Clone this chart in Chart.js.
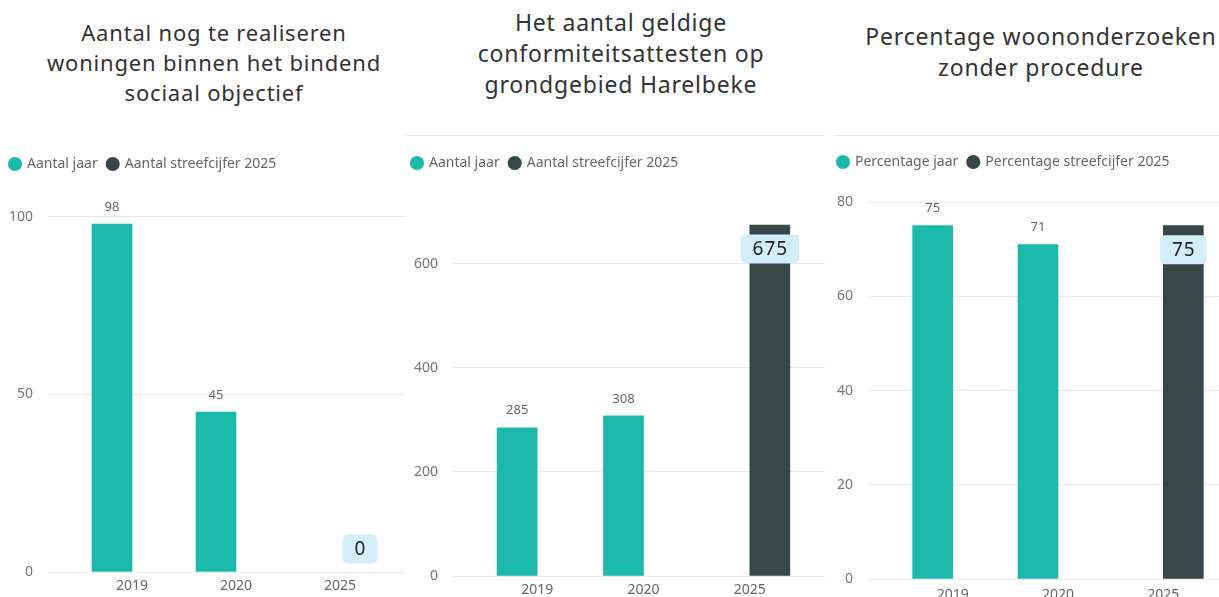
<!DOCTYPE html>
<html>
<head>
<meta charset="UTF-8">
<title>Wonen Harelbeke</title>
<script src="https://cdn.jsdelivr.net/npm/chart.js"></script>
<style>
  body { margin: 0; width: 1219px; height: 597px; overflow: hidden; background: #fff; position: relative; font-family: 'Noto Sans', sans-serif; }
  .title { position: absolute; text-align: center; color: #333; white-space: nowrap; letter-spacing: 0.8px; }
  .wrap { position: absolute; }
  .sep { position: absolute; top: 135px; height: 1px; background: #e6e9ec; }
</style>
</head>
<body>
<div class="title" style="left:0;top:17px;width:428px;font-size:22px;line-height:30px">Aantal nog te realiseren<br>woningen binnen het bindend<br>sociaal objectief</div>
<div class="title" style="left:411px;top:7px;width:420px;font-size:23px;line-height:31px">Het aantal geldige<br>conformiteitsattesten op<br>grondgebied Harelbeke</div>
<div class="title" style="left:841px;top:21px;width:400px;font-size:23px;line-height:31px">Percentage woononderzoeken<br>zonder procedure</div>
<div class="sep" style="left:405px;width:420px"></div>
<div class="sep" style="left:835px;width:384px"></div>

<div class="wrap" style="left:0;top:147px;width:405px;height:456px"><canvas id="c1"></canvas></div>
<div class="wrap" style="left:402px;top:146px;width:423px;height:460px"><canvas id="c2"></canvas></div>
<div class="wrap" style="left:828px;top:145px;width:391px;height:468px"><canvas id="c3"></canvas></div>

<script>
const categories = ['2019', '2020', '2025'];

const sociaalJaar = [98, 45, null];
const sociaalStreef = [null, null, 0];
const sociaalTicks = [0, 50, 100];

const attestenJaar = [285, 308, null];
const attestenStreef = [null, null, 675];
const attestenTicks = [0, 200, 400, 600];

const onderzoekJaar = [75, 71, null];
const onderzoekStreef = [null, null, 75];
const onderzoekTicks = [0, 20, 40, 60, 80];

const teal = '#1db9ab';
const dark = '#374649';
const gridColor = '#e9e9e9';

Chart.defaults.font.family = "'Noto Sans', sans-serif";
Chart.defaults.animation = false;

// data labels: grey above the teal bars, boxed inside the dark target bar
const valueLabels = {
    id: 'valueLabels',
    afterDatasetsDraw(chart) {
        const ctx = chart.ctx;
        chart.data.datasets.forEach((ds, di) => {
            const meta = chart.getDatasetMeta(di);
            meta.data.forEach((bar, i) => {
                const v = ds.data[i];
                if (v === null || v === undefined) return;
                const txt = String(v);
                ctx.save();
                ctx.textAlign = 'center';
                ctx.textBaseline = 'middle';
                if (di === 0) {
                    ctx.font = "13px 'Noto Sans', sans-serif";
                    ctx.fillStyle = '#666';
                    ctx.fillText(txt, bar.x, bar.y - 17);
                } else {
                    ctx.font = "19px 'Noto Sans', sans-serif";
                    ctx.letterSpacing = '1px';
                    const w = ctx.measureText(txt).width + 23;
                    const h = 29;
                    const cy = (bar.base - bar.y > 40) ? bar.y + 24 : bar.y - 23;
                    ctx.fillStyle = '#d3eef8';
                    ctx.beginPath();
                    ctx.roundRect(bar.x - w / 2, cy - h / 2, w, h, 5);
                    ctx.fill();
                    ctx.fillStyle = '#222';
                    ctx.fillText(txt, bar.x + 0.5, cy + 1);
                }
                ctx.restore();
            });
        });
    }
};

function makeChart(id, names, jaar, streef, ticks, max, g) {
    const setTicks = s => { s.ticks = ticks.map(v => ({ value: v })); };
    new Chart(document.getElementById(id), {
        type: 'bar',
        data: {
            labels: categories,
            datasets: [
                { label: names[0], data: jaar, backgroundColor: teal, borderWidth: 0, barThickness: 40 },
                { label: names[1], data: streef, borderWidth: 0, barThickness: 40,
                  backgroundColor: c => (c.raw === 0 ? 'rgba(0,0,0,0)' : dark) }
            ]
        },
        options: {
            responsive: true,
            maintainAspectRatio: false,
            layout: { padding: { top: 0, left: 0, right: 0, bottom: g.padBottom } },
            plugins: {
                tooltip: { enabled: false },
                legend: {
                    position: 'top',
                    align: 'start',
                    labels: {
                        usePointStyle: true, pointStyle: 'circle',
                        boxWidth: 10, boxHeight: 10, padding: 10,
                        color: '#666', font: { size: 14 }
                    }
                }
            },
            scales: {
                x: {
                    grid: { display: false, drawTicks: false },
                    border: { display: false },
                    ticks: { color: '#666', font: { size: 14 }, padding: g.xpad }
                },
                y: {
                    min: 0, max: max,
                    afterBuildTicks: setTicks,
                    afterFit: s => { s.width = g.left; },
                    grid: { color: gridColor, tickLength: g.tick },
                    border: { display: false },
                    ticks: { color: '#777', font: { size: 14 }, padding: g.pad }
                },
                yr: {
                    position: 'right',
                    min: 0, max: max,
                    afterBuildTicks: setTicks,
                    afterFit: s => { s.width = g.right; },
                    grid: { color: gridColor, drawOnChartArea: false, tickLength: g.right },
                    border: { display: false },
                    ticks: { display: false }
                }
            }
        },
        plugins: [valueLabels]
    });
}

makeChart('c1', ['Aantal jaar', 'Aantal streefcijfer 2025'], sociaalJaar, sociaalStreef, sociaalTicks, 110.1,
    { left: 80, tick: 32, pad: 15, right: 13, padBottom: 2.2, xpad: 6 });
makeChart('c2', ['Aantal jaar', 'Aantal streefcijfer 2025'], attestenJaar, attestenStreef, attestenTicks, 761.5,
    { left: 82, tick: 32, pad: 14, right: 22, padBottom: 1.2, xpad: 6 });
makeChart('c3', ['Percentage jaar', 'Percentage streefcijfer 2025'], onderzoekJaar, onderzoekStreef, onderzoekTicks, 84.9,
    { left: 72, tick: 31, pad: 16, right: 3, padBottom: 1.2, xpad: 8 });
</script>
</body>
</html>
